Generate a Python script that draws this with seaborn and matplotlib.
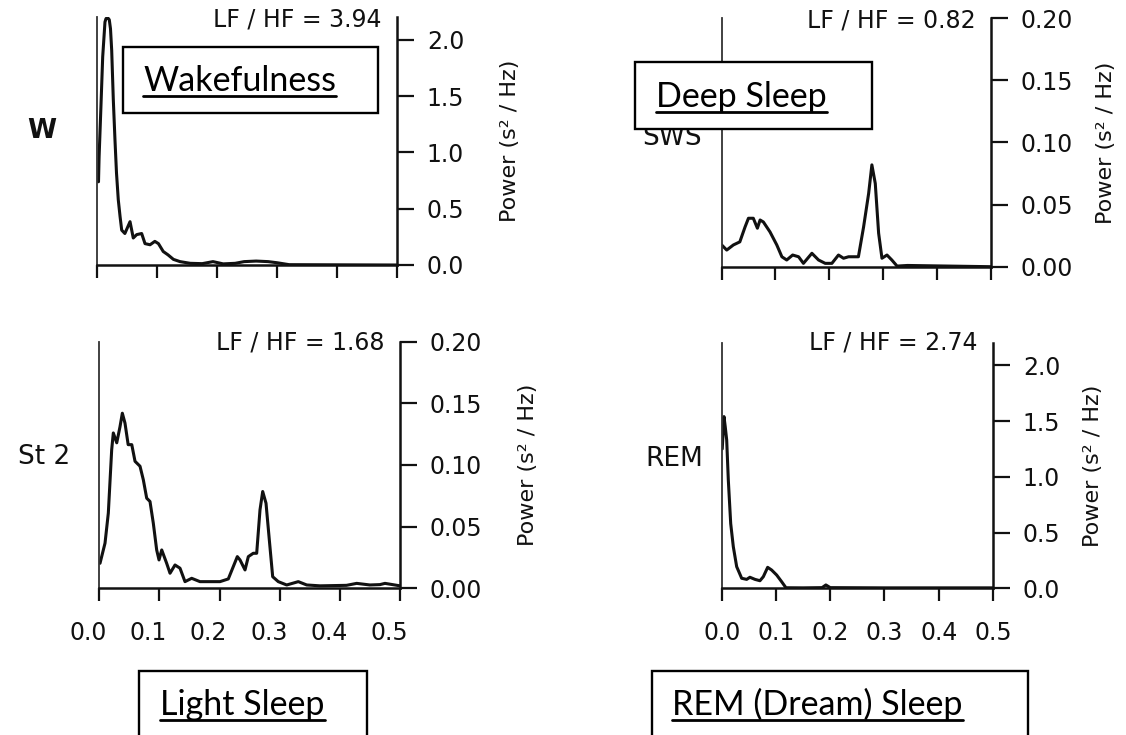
import matplotlib
matplotlib.use("Agg")
import matplotlib.pyplot as plt
import matplotlib.transforms as mtransforms
from matplotlib.patches import Rectangle
from matplotlib.lines import Line2D
import pandas as pd
import seaborn as sns

# ---------------------------------------------------------------------------
# Heart-rate-variability power spectra (frequency in Hz, power in s^2/Hz)
# ---------------------------------------------------------------------------
freq_w = [0.002, 0.003, 0.006, 0.009, 0.0128, 0.0145, 0.017, 0.020, 0.022,
          0.024, 0.0267, 0.0295, 0.032, 0.035, 0.038, 0.0407, 0.046, 0.0546,
          0.060, 0.0657, 0.074, 0.0796, 0.088, 0.096, 0.102, 0.110, 0.118,
          0.127, 0.138, 0.155, 0.175, 0.193, 0.21, 0.23, 0.245, 0.265, 0.285,
          0.30, 0.32, 0.50]
power_w = [0.74, 0.96, 1.40, 1.85, 2.16, 2.19, 2.20, 2.18, 2.10,
           1.91, 1.47, 1.11, 0.82, 0.58, 0.43, 0.31, 0.28, 0.385,
           0.24, 0.27, 0.28, 0.19, 0.18, 0.21, 0.19, 0.12, 0.09,
           0.05, 0.03, 0.015, 0.012, 0.03, 0.01, 0.015, 0.03, 0.035, 0.03,
           0.02, 0.003, 0.0]

freq_sws = [0.0004, 0.0097, 0.022, 0.034, 0.0437, 0.050, 0.059, 0.0666,
            0.0716, 0.0777, 0.090, 0.1026, 0.112, 0.121, 0.132, 0.143, 0.152,
            0.1677, 0.180, 0.1924, 0.2048, 0.217, 0.2264, 0.2357, 0.254,
            0.2636, 0.273, 0.279, 0.2853, 0.2915, 0.2977, 0.307, 0.316,
            0.3257, 0.345, 0.50]
power_sws = [0.0175, 0.0134, 0.0175, 0.020, 0.032, 0.039, 0.039, 0.031,
             0.0376, 0.036, 0.028, 0.0175, 0.008, 0.0054, 0.0094, 0.008, 0.0027,
             0.0108, 0.0054, 0.0027, 0.0027, 0.0094, 0.0068, 0.008, 0.008,
             0.032, 0.059, 0.082, 0.067, 0.027, 0.0068, 0.0094, 0.0054,
             0.0005, 0.001, 0.0]

freq_st2 = [0.0012, 0.0095, 0.015, 0.0206, 0.0233, 0.029, 0.0344, 0.0383,
            0.0427, 0.048, 0.054, 0.0594, 0.0677, 0.0732, 0.0788, 0.0843,
            0.0898, 0.0954, 0.0993, 0.1038, 0.112, 0.1176, 0.1259, 0.1342,
            0.1425, 0.1536, 0.1674, 0.184, 0.2007, 0.2145, 0.2228, 0.2295,
            0.234, 0.2423, 0.2478, 0.256, 0.2617, 0.2672, 0.2717, 0.2772,
            0.2827, 0.2883, 0.2976, 0.3116, 0.3309, 0.3449, 0.367, 0.411,
            0.428, 0.45, 0.4667, 0.475, 0.50]
power_st2 = [0.0203, 0.0366, 0.061, 0.1124, 0.126, 0.118, 0.131, 0.142,
             0.134, 0.1165, 0.1165, 0.103, 0.099, 0.088, 0.0731, 0.0704,
             0.0528, 0.0311, 0.023, 0.0311, 0.0203, 0.0122, 0.0189, 0.0163,
             0.0054, 0.0081, 0.0054, 0.0054, 0.0054, 0.0076, 0.0176, 0.0257,
             0.023, 0.0149, 0.0257, 0.0284, 0.0284, 0.0636, 0.0785, 0.069,
             0.0393, 0.0094, 0.0054, 0.0027, 0.0054, 0.0027, 0.002, 0.0024,
             0.004, 0.0027, 0.003, 0.004, 0.002]

freq_rem = [0.001, 0.0042, 0.0065, 0.0092, 0.0122, 0.0166, 0.0214, 0.0276,
            0.0368, 0.046, 0.052, 0.0613, 0.0705, 0.0767, 0.0847, 0.092,
            0.1013, 0.1105, 0.1184, 0.15, 0.185, 0.192, 0.20, 0.25, 0.30,
            0.35, 0.40, 0.45, 0.50]
power_rem = [1.25, 1.54, 1.45, 1.33, 0.97, 0.58, 0.373, 0.194,
             0.09, 0.08, 0.099, 0.08, 0.068, 0.104, 0.188, 0.164,
             0.119, 0.059, 0.005, 0.004, 0.006, 0.03, 0.006, 0.005, 0.004,
             0.004, 0.004, 0.004, 0.004]

stage_codes = ["W", "SWS", "St 2", "REM"]
stage_names = ["Wakefulness", "Deep Sleep", "Light Sleep", "REM (Dream) Sleep"]
lf_hf_ratio = [3.94, 0.82, 1.68, 2.74]

x_ticks = [0.0, 0.1, 0.2, 0.3, 0.4, 0.5]
y_ticks_large = [0.0, 0.5, 1.0, 1.5, 2.0]
y_ticks_small = [0.00, 0.05, 0.10, 0.15, 0.20]

# ---------------------------------------------------------------------------
sns.set_style("ticks")
plt.rcParams["font.family"] = ["DejaVu Sans"]
plt.rcParams["axes.facecolor"] = "none"

FIG_W, FIG_H = 1126, 735
fig = plt.figure(figsize=(FIG_W / 100, FIG_H / 100), dpi=100)
fig.patch.set_facecolor("white")


def add_panel(left, right, top, bottom):
    """Axes placed by pixel edges (origin at the top-left corner)."""
    return fig.add_axes([left / FIG_W, 1 - bottom / FIG_H,
                         (right - left) / FIG_W, (bottom - top) / FIG_H])


panels = [
    dict(rect=(97.3, 397.0, 17.5, 265.0), f=freq_w, p=power_w, ymax=2.2,
         yt=y_ticks_large, fmt="{:.1f}", xlabels=False,
         code_xy=(-0.185, 0.541), code_bold=True, ylab_x=1.377, ratio_y=0.99,
         tick_shift=0),
    dict(rect=(721.5, 991.0, 18.3, 266.7), f=freq_sws, p=power_sws, ymax=0.2,
         yt=y_ticks_small, fmt="{:.2f}", xlabels=False,
         code_xy=(-0.184, 0.52), code_bold=False, ylab_x=1.426, ratio_y=0.993,
         tick_shift=0),
    dict(rect=(99.3, 400.0, 341.7, 588.3), f=freq_st2, p=power_st2, ymax=0.2,
         yt=y_ticks_small, fmt="{:.2f}", xlabels=True,
         code_xy=(-0.184, 0.532), code_bold=False, ylab_x=1.425, ratio_y=0.995,
         tick_shift=-11),
    dict(rect=(721.7, 993.0, 343.0, 588.3), f=freq_rem, p=power_rem, ymax=2.2,
         yt=y_ticks_large, fmt="{:.1f}", xlabels=True,
         code_xy=(-0.176, 0.527), code_bold=False, ylab_x=1.367, ratio_y=1.0,
         tick_shift=0),
]

ink = "#111111"

for spec, code, ratio in zip(panels, stage_codes, lf_hf_ratio):
    ax = add_panel(*spec["rect"])
    df = pd.DataFrame({"freq": spec["f"], "power": spec["p"]})
    sns.lineplot(data=df, x="freq", y="power", ax=ax, color=ink,
                 linewidth=2.2, estimator=None, sort=False, clip_on=True)

    ax.set_xlim(0, 0.5)
    ax.set_ylim(0, spec["ymax"])
    ax.set_xlabel("")

    # spines: open top, thin left edge, heavier right/bottom
    ax.spines["top"].set_visible(False)
    ax.spines["left"].set_linewidth(1.3)
    ax.spines["left"].set_color("#333333")
    for side in ("right", "bottom"):
        ax.spines[side].set_linewidth(1.8)
        ax.spines[side].set_color(ink)

    # x axis
    ax.set_xticks(x_ticks)
    ax.set_xticklabels([f"{v:.1f}" for v in x_ticks])
    ax.tick_params(axis="x", direction="out", length=9.5, width=1.6,
                   color=ink, pad=14, labelsize=17, labelcolor=ink,
                   labelbottom=spec["xlabels"])
    if spec["tick_shift"]:
        shift = mtransforms.ScaledTranslation(spec["tick_shift"] / 100, 0,
                                              fig.dpi_scale_trans)
        for t in ax.xaxis.get_major_ticks():
            t.label1.set_transform(t.label1.get_transform() + shift)

    # y axis on the right
    ax.yaxis.tick_right()
    ax.set_yticks(spec["yt"])
    ax.set_yticklabels([spec["fmt"].format(v) for v in spec["yt"]])
    ax.tick_params(axis="y", direction="out", length=12, width=1.6,
                   color=ink, pad=9.5, labelsize=17, labelcolor=ink,
                   left=False, right=True, labelleft=False, labelright=True)
    ax.yaxis.set_label_position("right")
    ax.set_ylabel("Power (s\u00b2 / Hz)", fontsize=16, color=ink)
    ax.yaxis.set_label_coords(spec["ylab_x"], 0.5)
    ax.yaxis.label.set_verticalalignment("center")
    ax.yaxis.label.set_horizontalalignment("center")

    # LF/HF ratio in the top-right corner
    ax.text(1 - 15 / (spec["rect"][1] - spec["rect"][0]), spec["ratio_y"],
            f"LF / HF = {ratio:.2f}", transform=ax.transAxes,
            ha="right", va="center", fontsize=17, color=ink)

    # sleep-stage code on the left
    ax.text(*spec["code_xy"], code, transform=ax.transAxes, ha="center",
            va="center", fontsize=19, color=ink,
            fontweight="bold" if spec["code_bold"] else "normal")

# ---------------------------------------------------------------------------
# Boxed, underlined stage names
# ---------------------------------------------------------------------------
boxes = [
    # box left, right, top, bottom ; text left, baseline
    (123, 378, 47, 113, 143, 91),
    (635, 872, 62, 129, 656, 107),
    (139, 367, 671, 760, 160, 715),
    (652, 1028, 671, 760, 672, 715),
]

name_texts = []
for (bl, br, bt, bb, tx, ty), name in zip(boxes, stage_names):
    rect = Rectangle((bl / FIG_W, 1 - bb / FIG_H), (br - bl) / FIG_W,
                     (bb - bt) / FIG_H, transform=fig.transFigure,
                     facecolor="white", edgecolor="black", linewidth=1.7,
                     zorder=10, clip_on=False)
    fig.add_artist(rect)
    t = fig.text(tx / FIG_W, 1 - ty / FIG_H, name, ha="left", va="baseline",
                 fontsize=24.5, family=["Lato", "DejaVu Sans"], color="black",
                 zorder=11)
    name_texts.append((t, ty))

fig.canvas.draw()
renderer = fig.canvas.get_renderer()
for t, ty in name_texts:
    bb = t.get_window_extent(renderer=renderer)
    y_line = (FIG_H - ty - 5) / FIG_H
    fig.add_artist(Line2D([bb.x0 / FIG_W, bb.x1 / FIG_W], [y_line, y_line],
                          transform=fig.transFigure, color="black",
                          linewidth=2.0, zorder=11))

fig.savefig("out.png", dpi=100, facecolor="white")
